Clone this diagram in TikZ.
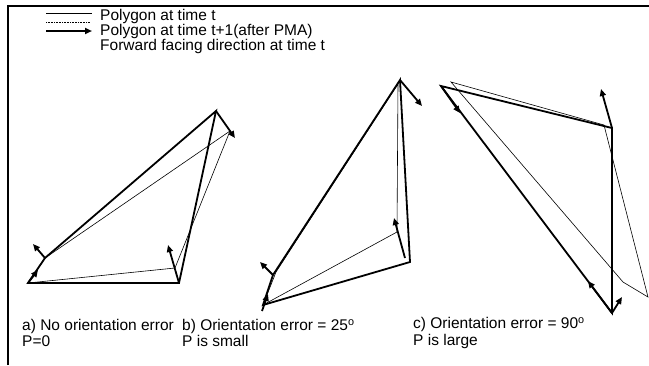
\documentclass[tikz,border=0pt]{standalone}
\usepackage{fontspec}
\setmainfont{Liberation Sans}
\usetikzlibrary{arrows.meta}

\begin{document}
\begin{tikzpicture}[x=1pt, y=-1pt, >={Triangle[length=7pt,width=6pt]},
  thinpoly/.style={line width=0.6pt, line join=miter},
  thickpoly/.style={line width=1.8pt, line join=miter},
  fwd/.style={->, line width=1.8pt},
  border/.style={line width=1.6pt},
  lab/.style={anchor=west, inner sep=0pt, align=left, font=\fontsize{15.5}{16.5}\selectfont}]

  \useasboundingbox (0,0) rectangle (649,365);
  \draw[border] (8,365) -- (8,6) -- (649,6);

  % legend
  \coordinate (k1a) at (46,13); \coordinate (k1b) at (92,13);
  \coordinate (k2a) at (46,22); \coordinate (k2b) at (90,22);
  \coordinate (k3a) at (46,31); \coordinate (k3b) at (92,31);
  \draw[thinpoly] (k1a) -- (k1b);
  \draw[thinpoly, dash pattern=on 0.8pt off 0.8pt] (k2a) -- (k2b);
  \draw[fwd] (k3a) -- (k3b);
  \node[lab] (leg1) at (100,16) {Polygon at time t};
  \node[lab] (leg2) at (100,31) {Polygon at time t+1(after PMA)};
  \node[lab] (leg3) at (100,46) {Forward facing direction at time t};

  % a) no orientation error
  \coordinate (aBL) at (28,283);  \coordinate (aBR) at (179,283);
  \coordinate (aT)  at (216,111); \coordinate (aL)  at (45,258);
  \coordinate (aR2) at (175,268); \coordinate (aT2) at (230,131);
  \draw[thinpoly] (aBL) -- (aR2) -- (aT2) -- (aL) -- cycle;
  \draw[thickpoly] (aBL) -- (aBR) -- (aT) -- (aL) -- cycle;
  \draw[fwd] (aT) -- (235,138);
  \draw[fwd] (aL) -- (33,244);
  \draw[fwd] (aBL) -- (38,270);
  \draw[fwd] (aBR) -- (168,245);

  % b) orientation error 25
  \coordinate (bBL) at (263,305); \coordinate (bR)  at (410,262);
  \coordinate (bT)  at (400,80);  \coordinate (bL)  at (273,275);
  \coordinate (bR2) at (397,232); \coordinate (bT2) at (398,84);
  \coordinate (bL2) at (276,272);
  \draw[thinpoly] (bBL) -- (bR2) -- (bT2) -- (bL2) -- cycle;
  \draw[thickpoly] (bBL) -- (bR) -- (bT) -- (bL) -- cycle;
  \draw[fwd] (bT) -- (422,106);
  \draw[fwd] (405,258) -- (394,218);
  \draw[fwd] (bL) -- (260,262);
  \draw[fwd] (262,311) -- (268,294);

  % c) orientation error 90
  \coordinate (cTL) at (441,86);  \coordinate (cRU) at (612,128);
  \coordinate (cB)  at (612,313);
  \coordinate (cTL2) at (451,82); \coordinate (cRU2) at (604,125);
  \coordinate (cBR2) at (648,297); \coordinate (cBL2) at (623,282);
  \draw[thinpoly] (cTL2) -- (cRU2) -- (cBR2) -- (cBL2) -- cycle;
  \draw[thickpoly] (cTL) -- (cRU) -- (cB) -- cycle;
  \draw[fwd] (cTL) -- (460,113);
  \draw[fwd] (cRU) -- (601,89);
  \draw[fwd] (cB) -- (588,281);
  \draw[fwd] (cB) -- (622,297);

  % captions
  \node[lab] (capa) at (22,333) {a) No orientation error\\P=0};
  \node[lab] (capb) at (182,333) {b) Orientation error = 25\textsuperscript{o}\\P is small};
  \node[lab] (capc) at (413,333) {c) Orientation error = 90\textsuperscript{o}\\P is large};
\end{tikzpicture}
\end{document}
